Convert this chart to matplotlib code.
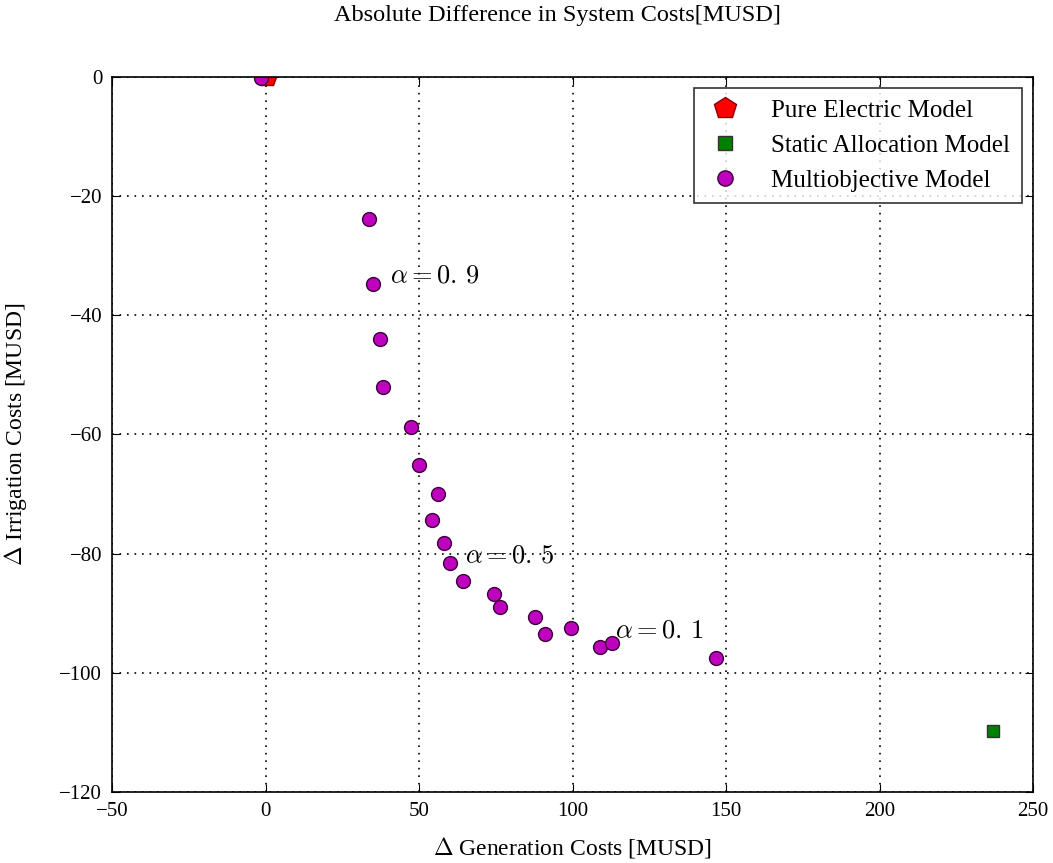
import numpy as np
import matplotlib
matplotlib.use('Agg')
import matplotlib.pyplot as plt

#%% Data
pure_x = [0.5]
pure_y = [0.0]

static_x = [237.0]
static_y = [-109.8]

multi_x = [-1.5, 33.7, 35.0, 37.3, 38.3, 47.4, 50.0, 56.2, 54.2, 58.1, 60.1,
           64.3, 74.4, 76.4, 87.8, 91.1, 99.5, 109.0, 112.9, 146.7]
multi_y = [-0.2, -23.8, -34.7, -44.0, -52.0, -58.7, -65.1, -70.0, -74.4, -78.2, -81.6,
           -84.6, -86.8, -89.0, -90.6, -93.5, -92.5, -95.7, -95.0, -97.5]

alpha_labels = [r'$\alpha=0.\,9$', r'$\alpha=0.\,5$', r'$\alpha=0.\,1$']
alpha_x = [40.5, 65.0, 114.0]
alpha_y = [-33.5, -80.5, -93.0]

#%% Style
plt.rcParams['font.family'] = ['Liberation Serif', 'DejaVu Serif']
plt.rcParams['mathtext.fontset'] = 'cm'

fig = plt.figure(figsize=(10.53, 8.63), dpi=100)
ax = fig.add_axes([0.1064, 0.0823, 0.8746, 0.8285])

ax.plot(pure_x, pure_y, linestyle='none', marker='p', markersize=15,
        color='red', markeredgecolor='#8b0000', label='Pure Electric Model')
ax.plot(static_x, static_y, linestyle='none', marker='s', markersize=9,
        color='green', markeredgecolor='#333333', label='Static Allocation Model')
ax.plot(multi_x, multi_y, linestyle='none', marker='o', markersize=10,
        color='m', markeredgecolor='#3a003a', label='Multiobjective Model')

for lab, tx, ty in zip(alpha_labels, alpha_x, alpha_y):
    ax.text(tx, ty, lab, fontsize=19, va='center', ha='left')

ax.set_xlim(-50, 250)
ax.set_ylim(-120, 0)
ax.set_xticks([-50, 0, 50, 100, 150, 200, 250])
ax.set_yticks([-120, -100, -80, -60, -40, -20, 0])
ax.tick_params(direction='in', top=True, right=True, labelsize=15, length=6, pad=7)
ax.grid(True, linestyle=(0, (1, 3.5)), color='black', linewidth=1.2)

for s in ax.spines.values():
    s.set_linewidth(1.2)

ax.set_xlabel(r'$\Delta$ Generation Costs [MUSD]', fontsize=17, labelpad=10)
ax.set_ylabel(r'$\Delta$ Irrigation Costs [MUSD]', fontsize=17, labelpad=22)

fig.text(557 / 1053, 1 - 15 / 863, 'Absolute Difference in System Costs[MUSD]',
         ha='center', va='center', fontsize=17.5)

leg = ax.legend(loc='upper right', numpoints=1, fontsize=18, fancybox=False,
                borderaxespad=0.45, handletextpad=1.05, borderpad=0.45,
                handlelength=1.6, labelspacing=0.5, markerscale=1.1)
leg.get_frame().set_edgecolor('black')
leg.get_frame().set_linewidth(1.2)

fig.savefig('out.png', dpi=100, facecolor='white')
